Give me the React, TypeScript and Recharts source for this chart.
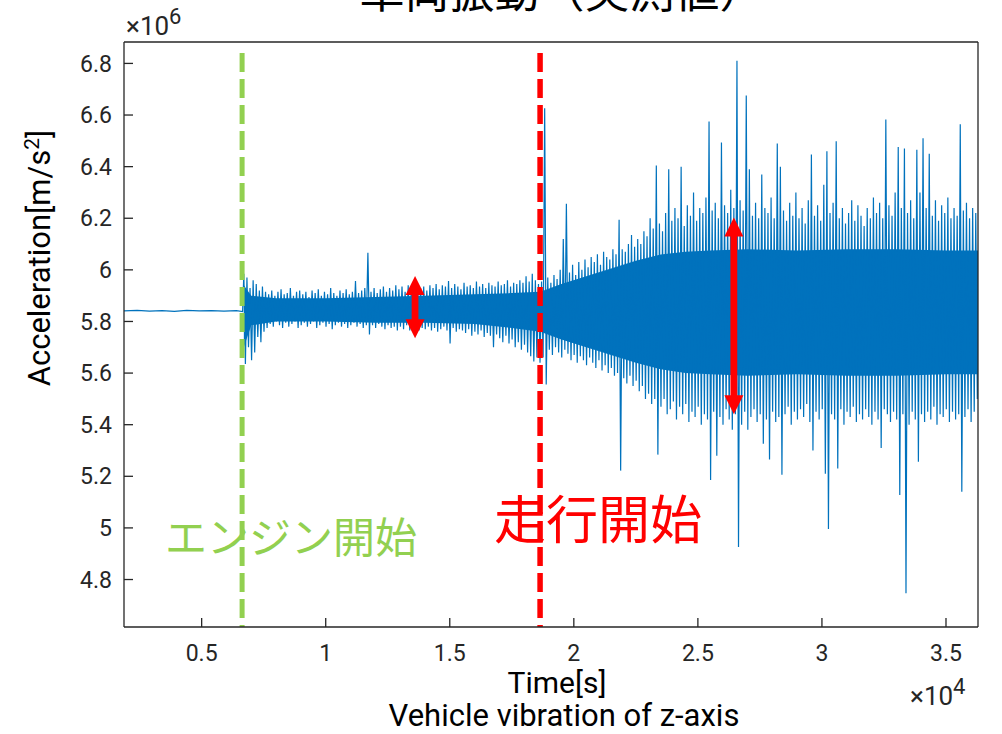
import { Area, ComposedChart, Line, ReferenceLine, XAxis, YAxis } from "recharts"

// time axis (s) and acceleration axis (x10^6 m/s^2)
const X_TICKS = [5000, 10000, 15000, 20000, 25000, 30000, 35000]
const Y_TICKS = [4.8, 5.0, 5.2, 5.4, 5.6, 5.8, 6.0, 6.2, 6.4, 6.6, 6.8]
const X_DOMAIN = [1870, 36290]
const Y_DOMAIN = [4.616, 6.883]

const ENGINE_START = 6630
const DRIVE_START = 18640

// idle part before the engine starts
const quietTimes = [1870, 2400, 2900, 3400, 3900, 4400, 4900, 5400, 5900, 6400, 6650]
const quietValues = [5.841, 5.843, 5.84, 5.842, 5.839, 5.843, 5.841, 5.842, 5.84, 5.842, 5.838]

// max / min of the signal in 125 s bins
const BIN_START = 6700
const BIN_STEP = 125
const peakHigh = [
  5.985, 5.97, 5.93, 5.96, 5.945, 5.92, 5.935, 5.915, 5.905, 5.92,
  5.9, 5.915, 5.925, 5.905, 5.91, 5.93, 5.9, 5.915, 5.92, 5.905,
  5.915, 5.895, 5.92, 5.91, 5.925, 5.9, 5.915, 5.905, 5.93, 5.91,
  5.9, 5.92, 5.91, 5.925, 5.905, 5.915, 5.957, 5.91, 5.92, 5.93,
  6.066, 5.915, 5.93, 5.91, 5.925, 5.935, 5.915, 5.93, 5.92, 5.94,
  5.925, 5.935, 5.915, 5.94, 5.93, 5.92, 5.945, 5.93, 5.935, 5.92,
  5.94, 5.93, 5.945, 5.925, 5.94, 5.935, 5.957, 5.93, 5.945, 5.935,
  5.925, 5.95, 5.935, 5.94, 5.93, 5.955, 5.935, 5.945, 5.93, 5.95,
  5.94, 5.935, 5.955, 5.94, 5.945, 5.96, 5.935, 5.95, 5.945, 5.96,
  5.95, 5.975, 5.955, 5.985, 5.96, 5.945, 5.955, 6.626, 5.97, 5.95,
  5.98, 5.965, 6.0, 6.12, 6.256, 5.99, 6.02, 5.98, 6.03, 6.0,
  6.04, 6.01, 6.05, 6.03, 6.06, 6.02, 6.07, 6.05, 6.04, 6.08,
  6.06, 6.194, 6.08, 6.07, 6.1, 6.135, 6.09, 6.12, 6.1, 6.15,
  6.13, 6.2, 6.16, 6.404, 6.18, 6.15, 6.22, 6.39, 6.19, 6.24,
  6.2, 6.4, 6.17, 6.25, 6.21, 6.3, 6.19, 6.24, 6.22, 6.28,
  6.575, 6.23, 6.26, 6.2, 6.494, 6.25, 6.22, 6.31, 6.24, 6.81,
  6.27, 6.23, 6.676, 6.39, 6.21, 6.26, 6.2, 6.37, 6.24, 6.22,
  6.28, 6.2, 6.49, 6.4, 6.23, 6.19, 6.26, 6.21, 6.3, 6.2,
  6.24, 6.18, 6.27, 6.447, 6.21, 6.25, 6.19, 6.33, 6.46, 6.22,
  6.26, 6.498, 6.2, 6.24, 6.18, 6.22, 6.27, 6.19, 6.25, 6.21,
  6.17, 6.24, 6.2, 6.28, 6.22, 6.26, 6.2, 6.583, 6.25, 6.21,
  6.3, 6.476, 6.24, 6.47, 6.22, 6.27, 6.2, 6.465, 6.3, 6.51,
  6.24, 6.45, 6.21, 6.27, 6.19, 6.25, 6.22, 6.28, 6.2, 6.24,
  6.21, 6.564, 6.23, 6.26, 6.2, 6.24, 6.22, 6.25,
]
const peakLow = [
  5.635, 5.7, 5.65, 5.68, 5.74, 5.72, 5.76, 5.775, 5.79, 5.78,
  5.8, 5.785, 5.775, 5.795, 5.78, 5.79, 5.8, 5.775, 5.785, 5.795,
  5.78, 5.79, 5.8, 5.775, 5.785, 5.795, 5.78, 5.79, 5.77, 5.785,
  5.795, 5.78, 5.79, 5.775, 5.785, 5.795, 5.78, 5.79, 5.775, 5.785,
  5.75, 5.785, 5.775, 5.79, 5.78, 5.77, 5.785, 5.775, 5.78, 5.765,
  5.78, 5.77, 5.785, 5.765, 5.775, 5.78, 5.765, 5.775, 5.77, 5.78,
  5.765, 5.775, 5.76, 5.77, 5.78, 5.765, 5.715, 5.775, 5.76, 5.77,
  5.765, 5.755, 5.77, 5.745, 5.76, 5.75, 5.765, 5.74, 5.755, 5.745,
  5.7, 5.75, 5.735, 5.72, 5.745, 5.715, 5.73, 5.7, 5.72, 5.69,
  5.71, 5.68, 5.665, 5.645, 5.66, 5.64, 5.66, 5.556, 5.69, 5.67,
  5.7, 5.68, 5.66, 5.69, 5.675, 5.65, 5.67, 5.64, 5.665, 5.65,
  5.63, 5.66, 5.64, 5.62, 5.65, 5.61, 5.63, 5.6, 5.62, 5.59,
  5.6, 5.222, 5.58, 5.56, 5.59, 5.55, 5.57, 5.53, 5.55, 5.5,
  5.52, 5.48, 5.5, 5.284, 5.47, 5.5, 5.44, 5.46, 5.49, 5.42,
  5.47, 5.44, 5.48, 5.41, 5.45, 5.43, 5.47, 5.4, 5.44, 5.42,
  5.186, 5.45, 5.28, 5.43, 5.4, 5.46, 5.42, 5.38, 5.44, 4.926,
  5.4, 5.45, 5.38, 5.43, 5.46, 5.41, 5.44, 5.326, 5.42, 5.265,
  5.45, 5.41, 5.43, 5.206, 5.44, 5.47, 5.4, 5.45, 5.42, 5.46,
  5.43, 5.48, 5.41, 5.3, 5.45, 5.42, 5.46, 5.21, 4.996, 5.44,
  5.42, 5.23, 5.46, 5.4, 5.45, 5.43, 5.47, 5.41, 5.44, 5.42,
  5.46, 5.43, 5.4, 5.45, 5.42, 5.31, 5.46, 5.44, 5.41, 5.45,
  5.42, 5.128, 5.44, 4.747, 5.4, 5.45, 5.42, 5.256, 5.44, 5.41,
  5.45, 5.42, 5.47, 5.4, 5.44, 5.43, 5.46, 5.41, 5.45, 5.42,
  5.44, 5.14, 5.43, 5.46, 5.41, 5.45, 5.5, 5.43,
]

// dense solid band of the signal
const coreTimes = [6700, 7000, 8000, 10000, 12000, 14000, 16000, 17500, 18650, 19500, 20500, 21500, 22500, 23500, 24500, 25500, 27000, 29000, 31000, 33000, 35000, 36290]
const coreHigh = [5.94, 5.9, 5.89, 5.89, 5.895, 5.9, 5.905, 5.91, 5.915, 5.945, 5.975, 6.005, 6.035, 6.06, 6.07, 6.075, 6.08, 6.075, 6.08, 6.08, 6.075, 6.075]
const coreLow = [5.7, 5.785, 5.8, 5.8, 5.795, 5.795, 5.79, 5.775, 5.76, 5.73, 5.7, 5.67, 5.64, 5.615, 5.6, 5.595, 5.59, 5.595, 5.59, 5.59, 5.595, 5.595]

// amplitude markers
const arrowIdle = { t: 13600, from: 5.735, to: 5.976 }
const arrowDrive = { t: 26450, from: 5.44, to: 6.203 }

const signal = [
  ...quietTimes.map((t, i) => ({ t, v: quietValues[i] })),
  ...peakHigh.flatMap((hi, i) => [
    { t: BIN_START + i * BIN_STEP, v: hi },
    { t: BIN_START + i * BIN_STEP + BIN_STEP / 2, v: peakLow[i] },
  ]),
]
const band = coreTimes.map((t, i) => ({ t, band: [coreLow[i], coreHigh[i]] }))

const BLUE = "#0072BD"
const AXIS = "#262626"
const GREEN = "#92D050"
const RED = "#FF0000"
const LATIN = "Roboto, 'Liberation Sans', sans-serif"
const JP = "'Noto Sans CJK JP', sans-serif"

function DoubleArrow(props: any) {
  const { x1, y1, x2, y2 } = props
  const x = (x1 + x2) / 2
  const top = Math.min(y1, y2)
  const bottom = Math.max(y1, y2)
  const head = 19
  const half = 9.5
  return (
    <g>
      <rect x={x - 3.4} y={top + head - 1} width={6.8} height={bottom - top - 2 * head + 2} fill={RED} />
      <polygon points={`${x},${top} ${x - half},${top + head} ${x + half},${top + head}`} fill={RED} />
      <polygon points={`${x},${bottom} ${x - half},${bottom - head} ${x + half},${bottom - head}`} fill={RED} />
    </g>
  )
}

const yFmt = (v: number) => String(+v.toFixed(1))
const xFmt = (v: number) => String(v / 1e4)

export default function App() {
  const tickStyle = { fill: AXIS, fontSize: 23, fontFamily: LATIN }
  const lineStyle = { stroke: AXIS, strokeWidth: 1.3 }
  return (
    <div style={{ position: "absolute", left: 0, top: 0, width: 1002, height: 734, background: "#fff" }}>
      <ComposedChart
        width={1002}
        height={734}
        margin={{ top: 42, right: 24, bottom: 57, left: 54 }}
      >
        <XAxis
          xAxisId="b"
          type="number"
          dataKey="t"
          domain={X_DOMAIN}
          ticks={X_TICKS}
          tickFormatter={xFmt}
          allowDataOverflow
          height={50}
          tickSize={-9}
          tickMargin={27}
          tick={tickStyle}
          axisLine={lineStyle}
          tickLine={lineStyle}
        />
        <XAxis
          xAxisId="t"
          orientation="top"
          mirror
          type="number"
          dataKey="t"
          domain={X_DOMAIN}
          ticks={X_TICKS}
          allowDataOverflow
          tickSize={9}
          tick={false}
          axisLine={lineStyle}
          tickLine={lineStyle}
        />
        <YAxis
          yAxisId="l"
          type="number"
          domain={Y_DOMAIN}
          ticks={Y_TICKS}
          tickFormatter={yFmt}
          allowDataOverflow
          width={70}
          tickSize={-9}
          tickMargin={21}
          tick={tickStyle}
          axisLine={lineStyle}
          tickLine={lineStyle}
        />
        <YAxis
          yAxisId="r"
          orientation="right"
          mirror
          type="number"
          domain={Y_DOMAIN}
          ticks={Y_TICKS}
          allowDataOverflow
          tickSize={9}
          tick={false}
          axisLine={lineStyle}
          tickLine={lineStyle}
        />
        <Area
          xAxisId="b"
          yAxisId="l"
          data={band}
          dataKey="band"
          type="linear"
          stroke="none"
          fill={BLUE}
          fillOpacity={1}
          isAnimationActive={false}
        />
        <Line
          xAxisId="b"
          yAxisId="l"
          data={signal}
          dataKey="v"
          type="linear"
          stroke={BLUE}
          strokeWidth={1.2}
          dot={false}
          activeDot={false}
          isAnimationActive={false}
        />
        <ReferenceLine
          xAxisId="b"
          yAxisId="l"
          segment={[{ x: ENGINE_START, y: 6.84 }, { x: ENGINE_START, y: 4.616 }]}
          stroke={GREEN}
          strokeWidth={5}
          strokeDasharray="19 7"
        />
        <ReferenceLine
          xAxisId="b"
          yAxisId="l"
          segment={[{ x: DRIVE_START, y: 6.84 }, { x: DRIVE_START, y: 4.616 }]}
          stroke={RED}
          strokeWidth={5.5}
          strokeDasharray="19 7"
        />
        <ReferenceLine
          xAxisId="b"
          yAxisId="l"
          segment={[{ x: arrowIdle.t, y: arrowIdle.to }, { x: arrowIdle.t, y: arrowIdle.from }]}
          shape={DoubleArrow}
        />
        <ReferenceLine
          xAxisId="b"
          yAxisId="l"
          segment={[{ x: arrowDrive.t, y: arrowDrive.to }, { x: arrowDrive.t, y: arrowDrive.from }]}
          shape={DoubleArrow}
        />
      </ComposedChart>
      <svg
        width={1002}
        height={734}
        style={{ position: "absolute", left: 0, top: 0, pointerEvents: "none" }}
      >
        <text x={562} y={8} textAnchor="middle" fontSize={45} fontFamily={JP} fill="#000">
          車両振動（実測値）
        </text>
        <text x={126} y={35} fontSize={26} fontFamily={LATIN} fill={AXIS}>
          ×10<tspan dy={-11} fontSize={22}>6</tspan>
        </text>
        <text x={910} y={705} fontSize={26} fontFamily={LATIN} fill={AXIS}>
          ×10<tspan dy={-11} fontSize={22}>4</tspan>
        </text>
        <text x={557} y={693} textAnchor="middle" fontSize={30} fontFamily={LATIN} fill="#000">
          Time[s]
        </text>
        <text x={564} y={726} textAnchor="middle" fontSize={31} fontFamily={LATIN} fill="#000">
          Vehicle vibration of z-axis
        </text>
        <text
          transform="translate(50 258) rotate(-90)"
          textAnchor="middle"
          fontSize={31}
          fontFamily={LATIN}
          fill="#000"
        >
          Acceleration[m/s<tspan dy={-11} fontSize={21}>2</tspan><tspan dy={11}>]</tspan>
        </text>
        <text x={165} y={553} fontSize={42} fontFamily={JP} fill={GREEN}>
          エンジン開始
        </text>
        <text x={494} y={539} fontSize={52} fontFamily={JP} fill={RED}>
          走行開始
        </text>
      </svg>
    </div>
  )
}
